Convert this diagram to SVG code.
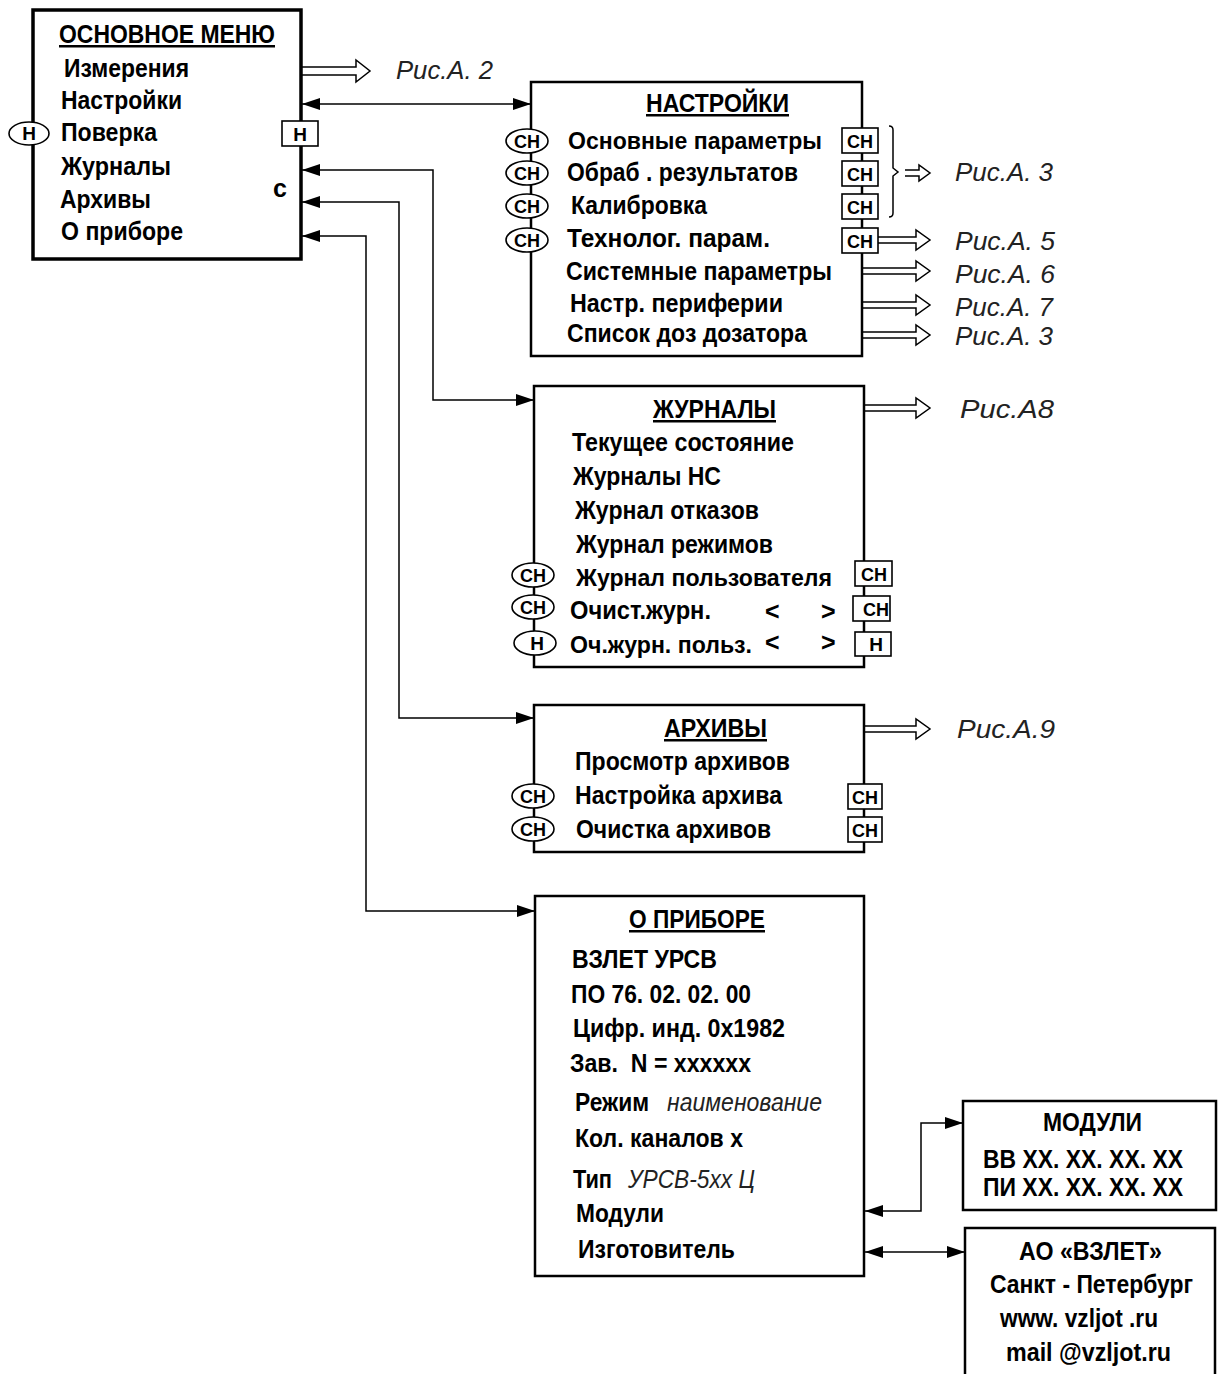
<svg xmlns="http://www.w3.org/2000/svg" width="1218" height="1374" viewBox="0 0 1218 1374">
<style>
.t{font-family:"Liberation Sans",Arial,sans-serif;font-weight:bold;font-size:25px;fill:#000}
.s{font-size:23.5px}
.it{font-family:"Liberation Sans",Arial,sans-serif;font-style:italic;font-size:25px;fill:#222}
.u{text-decoration:underline}
.lab{font-family:"Liberation Sans",Arial,sans-serif;font-weight:bold;font-size:19px;text-anchor:middle;fill:#000}
.box{fill:#fff;stroke:#000;stroke-width:2.5}
.thick{stroke-width:3.5}
.tag{fill:#fff;stroke:#000;stroke-width:1.6}
.ln{fill:none;stroke:#000;stroke-width:1.5}
.ha{fill:#fff;stroke:#000;stroke-width:1.5}
</style>
<defs>
<marker id="ah" viewBox="0 0 18 12" refX="18" refY="6" markerWidth="18" markerHeight="12" markerUnits="userSpaceOnUse" orient="auto-start-reverse">
<path d="M0,0 L18,6 L0,12 Z" fill="#000"/>
</marker>
</defs>

<g id="connectors">
<path class="ln" d="M302,104 H531" marker-start="url(#ah)" marker-end="url(#ah)"/>
<path class="ln" d="M302,170 H433 V400 H534" marker-start="url(#ah)" marker-end="url(#ah)"/>
<path class="ln" d="M302,202 H399 V718 H534" marker-start="url(#ah)" marker-end="url(#ah)"/>
<path class="ln" d="M302,236 H366 V911 H535" marker-start="url(#ah)" marker-end="url(#ah)"/>
<path class="ln" d="M865,1211 H921 V1123 H963" marker-start="url(#ah)" marker-end="url(#ah)"/>
<path class="ln" d="M865,1252 H965" marker-start="url(#ah)" marker-end="url(#ah)"/>
<path class="ha" d="M302,67 H356 V60 L370,71 L356,82 V75 H302"/>
<path class="ha" d="M878,237 H916 V230 L930,240 L916,250 V243 H878"/>
<path class="ha" d="M863,268 H916 V261 L930,271 L916,281 V274 H863"/>
<path class="ha" d="M863,302 H916 V295 L930,305 L916,315 V308 H863"/>
<path class="ha" d="M863,332 H916 V325 L930,335 L916,345 V338 H863"/>
<path class="ha" d="M865,405 H916 V398 L930,408 L916,418 V411 H865"/>
<path class="ha" d="M865,726 H916 V719 L930,729 L916,739 V732 H865"/>
<path class="ln" d="M889,126 Q893,126 893,130 V168 L898,172 L893,176 V213 Q893,217 889,217"/>
<path class="ha" d="M905,170 H919 V165 L930,173 L919,181 V176 H905"/>
<text class="it" x="396" y="79" textLength="97" lengthAdjust="spacingAndGlyphs">Рис.А. 2</text>
<text class="it" x="955" y="181" textLength="98" lengthAdjust="spacingAndGlyphs">Рис.А. 3</text>
<text class="it" x="955" y="250" textLength="100" lengthAdjust="spacingAndGlyphs">Рис.А. 5</text>
<text class="it" x="955" y="283" textLength="100" lengthAdjust="spacingAndGlyphs">Рис.А. 6</text>
<text class="it" x="955" y="316" textLength="98" lengthAdjust="spacingAndGlyphs">Рис.А. 7</text>
<text class="it" x="955" y="345" textLength="98" lengthAdjust="spacingAndGlyphs">Рис.А. 3</text>
<text class="it" x="960" y="418" textLength="94" lengthAdjust="spacingAndGlyphs">Рис.А8</text>
<text class="it" x="957" y="738" textLength="98" lengthAdjust="spacingAndGlyphs">Рис.А.9</text>
</g>

<g id="main-menu">
<rect class="box thick" x="33" y="10" width="268" height="249"/>
<text class="t u" x="59" y="43" textLength="216" lengthAdjust="spacingAndGlyphs">ОСНОВНОЕ МЕНЮ</text>
<text class="t" x="64" y="77" textLength="125" lengthAdjust="spacingAndGlyphs">Измерения</text>
<text class="t" x="61" y="109" textLength="121" lengthAdjust="spacingAndGlyphs">Настройки</text>
<text class="t" x="61" y="141" textLength="96" lengthAdjust="spacingAndGlyphs">Поверка</text>
<text class="t" x="61" y="175" textLength="110" lengthAdjust="spacingAndGlyphs">Журналы</text>
<text class="t" x="60" y="208" textLength="91" lengthAdjust="spacingAndGlyphs">Архивы</text>
<text class="t" x="61" y="240" textLength="122" lengthAdjust="spacingAndGlyphs">О приборе</text>
<text class="t" x="273" y="197" font-size="23">с</text>
<ellipse class="tag" cx="29" cy="133.5" rx="20" ry="11.5"/>
<text class="lab" x="29" y="140">Н</text>
<rect class="tag" x="282" y="121" width="36" height="25"/>
<text class="lab" x="300" y="141">Н</text>
</g>

<g id="nastroyki">
<rect class="box" x="531" y="82" width="331" height="274"/>
<text class="t u" x="646" y="112" textLength="143" lengthAdjust="spacingAndGlyphs">НАСТРОЙКИ</text>
<text class="t s" x="568" y="149" textLength="254" lengthAdjust="spacingAndGlyphs">Основные параметры</text>
<text class="t" x="567" y="181" textLength="231" lengthAdjust="spacingAndGlyphs">Обраб . результатов</text>
<text class="t" x="571" y="214" textLength="136" lengthAdjust="spacingAndGlyphs">Калибровка</text>
<text class="t" x="567" y="247" textLength="203" lengthAdjust="spacingAndGlyphs">Технолог. парам.</text>
<text class="t" x="566" y="280" textLength="266" lengthAdjust="spacingAndGlyphs">Системные параметры</text>
<text class="t" x="570" y="312" textLength="213" lengthAdjust="spacingAndGlyphs">Настр. периферии</text>
<text class="t" x="567" y="342" textLength="240" lengthAdjust="spacingAndGlyphs">Список доз дозатора</text>
<ellipse class="tag" cx="527" cy="141" rx="21" ry="12"/><text class="lab" x="527" y="148" textLength="26" lengthAdjust="spacingAndGlyphs">СН</text>
<ellipse class="tag" cx="527" cy="173" rx="21" ry="12"/><text class="lab" x="527" y="180" textLength="26" lengthAdjust="spacingAndGlyphs">СН</text>
<ellipse class="tag" cx="527" cy="206" rx="21" ry="12"/><text class="lab" x="527" y="213" textLength="26" lengthAdjust="spacingAndGlyphs">СН</text>
<ellipse class="tag" cx="527" cy="240" rx="21" ry="12"/><text class="lab" x="527" y="247" textLength="26" lengthAdjust="spacingAndGlyphs">СН</text>
<rect class="tag" x="842" y="128" width="36" height="25"/><text class="lab" x="860" y="148" textLength="26" lengthAdjust="spacingAndGlyphs">СН</text>
<rect class="tag" x="842" y="161" width="36" height="25"/><text class="lab" x="860" y="181" textLength="26" lengthAdjust="spacingAndGlyphs">СН</text>
<rect class="tag" x="842" y="194" width="36" height="25"/><text class="lab" x="860" y="214" textLength="26" lengthAdjust="spacingAndGlyphs">СН</text>
<rect class="tag" x="842" y="228" width="36" height="25"/><text class="lab" x="860" y="248" textLength="26" lengthAdjust="spacingAndGlyphs">СН</text>
</g>

<g id="zhurnaly">
<rect class="box" x="534" y="386" width="330" height="281"/>
<text class="t u" x="653" y="418" textLength="123" lengthAdjust="spacingAndGlyphs">ЖУРНАЛЫ</text>
<text class="t" x="572" y="451" textLength="222" lengthAdjust="spacingAndGlyphs">Текущее состояние</text>
<text class="t" x="573" y="485" textLength="148" lengthAdjust="spacingAndGlyphs">Журналы НС</text>
<text class="t" x="575" y="519" textLength="184" lengthAdjust="spacingAndGlyphs">Журнал отказов</text>
<text class="t" x="576" y="553" textLength="197" lengthAdjust="spacingAndGlyphs">Журнал режимов</text>
<text class="t s" x="576" y="586" textLength="256" lengthAdjust="spacingAndGlyphs">Журнал пользователя</text>
<text class="t" x="570" y="619" textLength="141" lengthAdjust="spacingAndGlyphs">Очист.журн.</text>
<text class="t s" x="570" y="653" textLength="182" lengthAdjust="spacingAndGlyphs">Оч.журн. польз.</text>
<text class="t" x="765" y="620" font-weight="normal">&lt;</text>
<text class="t" x="821" y="620" font-weight="normal">&gt;</text>
<text class="t" x="765" y="651" font-weight="normal">&lt;</text>
<text class="t" x="821" y="651" font-weight="normal">&gt;</text>
<ellipse class="tag" cx="533" cy="575" rx="21" ry="12"/><text class="lab" x="533" y="582" textLength="26" lengthAdjust="spacingAndGlyphs">СН</text>
<ellipse class="tag" cx="533" cy="607" rx="21" ry="12"/><text class="lab" x="533" y="614" textLength="26" lengthAdjust="spacingAndGlyphs">СН</text>
<ellipse class="tag" cx="535" cy="643" rx="21" ry="12"/><text class="lab" x="537" y="650">Н</text>
<rect class="tag" x="855" y="561" width="37" height="25"/><text class="lab" x="874" y="581" textLength="26" lengthAdjust="spacingAndGlyphs">СН</text>
<rect class="tag" x="853" y="596" width="37" height="25"/><text class="lab" x="876" y="616" textLength="26" lengthAdjust="spacingAndGlyphs">СН</text>
<rect class="tag" x="855" y="632" width="36" height="24"/><text class="lab" x="876" y="651">Н</text>
</g>

<g id="arkhivy">
<rect class="box" x="534" y="705" width="330" height="147"/>
<text class="t u" x="664" y="737" textLength="103" lengthAdjust="spacingAndGlyphs">АРХИВЫ</text>
<text class="t" x="575" y="770" textLength="215" lengthAdjust="spacingAndGlyphs">Просмотр архивов</text>
<text class="t" x="575" y="804" textLength="207" lengthAdjust="spacingAndGlyphs">Настройка архива</text>
<text class="t" x="576" y="838" textLength="195" lengthAdjust="spacingAndGlyphs">Очистка архивов</text>
<ellipse class="tag" cx="533" cy="796" rx="21" ry="12"/><text class="lab" x="533" y="803" textLength="26" lengthAdjust="spacingAndGlyphs">СН</text>
<ellipse class="tag" cx="533" cy="829" rx="21" ry="12"/><text class="lab" x="533" y="836" textLength="26" lengthAdjust="spacingAndGlyphs">СН</text>
<rect class="tag" x="848" y="784" width="34" height="25"/><text class="lab" x="865" y="804" textLength="26" lengthAdjust="spacingAndGlyphs">СН</text>
<rect class="tag" x="848" y="817" width="34" height="25"/><text class="lab" x="865" y="837" textLength="26" lengthAdjust="spacingAndGlyphs">СН</text>
</g>

<g id="o-pribore">
<rect class="box" x="535" y="896" width="329" height="380"/>
<text class="t u" x="629" y="928" textLength="136" lengthAdjust="spacingAndGlyphs">О ПРИБОРЕ</text>
<text class="t" x="572" y="968" textLength="145" lengthAdjust="spacingAndGlyphs">ВЗЛЕТ УРСВ</text>
<text class="t" x="571" y="1003" textLength="180" lengthAdjust="spacingAndGlyphs">ПО 76. 02. 02. 00</text>
<text class="t" x="573" y="1037" textLength="212" lengthAdjust="spacingAndGlyphs">Цифр. инд. 0x1982</text>
<text class="t" x="570" y="1072" textLength="181" lengthAdjust="spacingAndGlyphs" xml:space="preserve">Зав.  N = xxxxxx</text>
<text class="t" x="575" y="1111" textLength="74" lengthAdjust="spacingAndGlyphs">Режим</text>
<text class="it" x="667" y="1111" textLength="155" lengthAdjust="spacingAndGlyphs">наименование</text>
<text class="t" x="575" y="1147" textLength="168" lengthAdjust="spacingAndGlyphs">Кол. каналов х</text>
<text class="t" x="573" y="1188" textLength="39" lengthAdjust="spacingAndGlyphs">Тип</text>
<text class="it" x="628" y="1188" textLength="127" lengthAdjust="spacingAndGlyphs">УРСВ-5хх Ц</text>
<text class="t" x="576" y="1222" textLength="88" lengthAdjust="spacingAndGlyphs">Модули</text>
<text class="t" x="578" y="1258" textLength="157" lengthAdjust="spacingAndGlyphs">Изготовитель</text>
</g>

<g id="moduli">
<rect class="box" x="963" y="1101" width="253" height="109"/>
<text class="t" x="1043" y="1131" textLength="99" lengthAdjust="spacingAndGlyphs">МОДУЛИ</text>
<text class="t" x="983" y="1168" textLength="200" lengthAdjust="spacingAndGlyphs">ВВ XX. XX. XX. XX</text>
<text class="t" x="983" y="1196" textLength="200" lengthAdjust="spacingAndGlyphs">ПИ XX. XX. XX. XX</text>
</g>

<g id="izgotovitel">
<rect class="box" x="965" y="1228" width="250" height="160"/>
<text class="t" x="1019" y="1260" textLength="143" lengthAdjust="spacingAndGlyphs">АО «ВЗЛЕТ»</text>
<text class="t" x="990" y="1293" textLength="203" lengthAdjust="spacingAndGlyphs">Санкт - Петербург</text>
<text class="t" x="1000" y="1327" textLength="158" lengthAdjust="spacingAndGlyphs">www. vzljot .ru</text>
<text class="t" x="1006" y="1361" textLength="165" lengthAdjust="spacingAndGlyphs">mail @vzljot.ru</text>
</g>
</svg>
